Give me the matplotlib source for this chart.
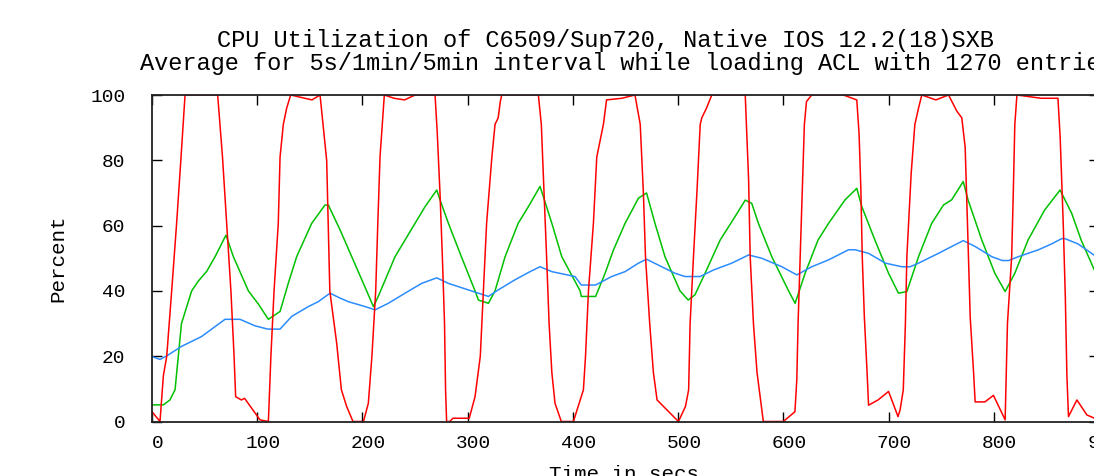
import numpy as np
import matplotlib
matplotlib.use("Agg")
import matplotlib.pyplot as plt
import matplotlib.transforms as mtransforms

# CPU load samples (time in secs, percent)
red_x = [0, 7.6, 10.8, 14, 18.7, 23.4, 27.6, 31.4, 62.4, 67, 71, 75, 78, 79.5, 85, 88,
         102.6, 110.6, 113, 116, 120, 121.7, 124.8, 128, 131.8, 145, 152, 159.7, 166, 169,
         175.5, 178, 180, 185, 191, 201, 205.6, 209, 212.6, 214.6, 216.7, 220.8, 230, 240,
         250, 269, 271, 273.7, 276, 278, 279, 280, 283, 286, 301.5, 307, 312, 315, 318, 323,
         326, 329, 331, 332.4, 367.2, 370, 372, 375, 377.4, 380, 383, 389, 400.5, 405, 410,
         412, 414.8, 419.5, 422.7, 429, 432, 446.5, 459, 464, 467, 469, 473, 476.5, 480,
         500.3, 507, 510, 511.4, 514.6, 518, 521, 522.5, 527, 532, 563.8, 567, 568.5, 571.6,
         575, 581, 600, 611, 612.8, 614, 616, 618, 620, 622, 627, 657, 669.8, 672, 673.7,
         675, 677, 679.6, 681, 690, 700, 709, 711, 714, 716, 717.4, 719, 721.5, 725, 728.5,
         731.6, 745, 757, 765, 769.6, 772.8, 775, 777.6, 780.8, 782.3, 791.6, 799.7, 810.8,
         813, 817, 818.6, 820, 822, 845, 861, 863.1, 866, 868, 869.5, 871, 879, 888.5, 895.6,
         900]
red_y = [3, 0, 14, 20, 40, 60.7, 81, 100, 100, 81, 60.7, 40, 20, 7.6, 6.6, 7.1,
         0.5, 0, 20, 40, 60.7, 81, 91, 96, 100, 99, 98.5, 100, 80, 40,
         24, 16, 9.7, 4.6, 0, 0, 5.6, 20, 40, 60.7, 81, 100, 99, 98.5,
         100, 100, 89, 70, 50, 30, 9.7, 0, 0, 1, 1, 7.6, 20, 40, 60.7, 81,
         91, 93, 98, 100, 100, 91, 75, 50.5, 30, 15, 5.6, 0, 0, 4.6, 9.7,
         20, 40, 60.7, 81, 91, 98.5, 99, 100, 91, 70, 50.5, 30, 15, 6.6,
         0, 4.6, 9.7, 30, 50.5, 71, 91, 93, 96, 100, 100, 74, 50.5, 30,
         15, 0, 0, 3, 12.8, 30, 50.5, 71, 91, 98, 100, 100, 98.5, 88, 71,
         50.5, 32, 15, 5, 6.6, 9.2, 1.5, 3.6, 9.7, 30, 50.5, 60.7, 76, 91, 96,
         100, 98.5, 100, 95, 93, 84, 60.7, 32, 15, 6, 6, 8, 0.5,
         30, 50.5, 71, 91, 100, 99, 99, 87, 60.7, 38, 14, 1.5, 6.6, 2, 1,
         0.5]

green_x = [0, 10.8, 17, 21.9, 25, 28, 37.7, 44, 52, 60, 70.3, 77.3, 91.6, 101, 110.6,
           121.7, 129.6, 137.5, 151.8, 164.4, 167.6, 178.7, 189.8, 204, 210.4, 215, 231,
           250, 259.5, 270.6, 273.7, 281.7, 294, 307, 310.2, 319.7, 326, 335.6, 348, 357.7,
           368.8, 380, 389.4, 406.9, 408, 421.6, 430.6, 438.5, 449.6, 462.3, 470, 478,
           487.5, 501.8, 509.6, 516, 525.6, 540, 554, 563.8, 570, 576.3, 589, 605, 611.2,
           620.7, 633, 643, 658.7, 669.8, 674.6, 687, 700, 709.4, 717.4, 728.5, 741, 752.2,
           760, 771, 775.5, 788.6, 801, 810.8, 820, 832.6, 848.4, 863, 874, 883, 895.6]
green_y = [5.1, 5.1, 6.6, 9.7, 20, 30, 40, 43, 46, 50.5, 57.1, 50.5, 40, 36, 31.3,
           33.7, 42.4, 50.5, 60.7, 66.3, 66.3, 58.7, 50.5, 40, 35.2, 38.3, 50.5,
           60.7, 65.8, 70.9, 67.9, 60.7, 50.5, 40, 37.2, 36.2, 40, 50.5, 60.7, 65.8,
           72, 60.7, 50.5, 40, 38.3, 38.3, 45.4, 52.5, 60.7, 68.4, 70, 60.7,
           50.5, 40, 37.2, 38.8, 45.4, 55.6, 62.7, 67.8, 66.8, 60.7, 50.5, 40, 36.2,
           45.4, 55.6, 60.7, 67.9, 71.4, 65.8, 55.6, 45.4, 39.3, 39.8, 50.5, 60.7, 66.3,
           67.9, 73.5, 67.9, 55.6, 45.4, 39.8, 45.4, 55.6, 64.8, 70.9, 63.8, 55.6, 46.4]

blue_x = [0, 7.6, 15.5, 28, 47, 56.7, 69.4, 83.6, 97.9, 110, 121.7, 132.8, 148.6, 158,
          169.2, 178.7, 186.6, 202.5, 212, 224.6, 240.5, 256.3, 270.6, 281.7, 300.7, 319.7,
          329, 345, 359.3, 368.8, 380, 402, 408, 421.6, 436.8, 449.6, 462.3, 470, 484.4,
          497, 506.6, 521, 533.6, 551, 566.9, 579.5, 598.6, 612.8, 627, 643, 662, 668.3,
          681, 697, 712.6, 720.5, 728.5, 747.4, 760, 771, 782.3, 798, 808, 814, 823.5,
          842.5, 855, 864.5, 867.7, 880, 895.6]
blue_y = [19.9, 19, 20.4, 23, 26, 28.3, 31.3, 31.3, 29.3, 28.3, 28.3, 32.2, 35.2, 36.7,
          39.3, 37.8, 36.7, 35.2, 34.2, 36.2, 39.3, 42.3, 44, 42.3, 40.3, 38.3,
          40.3, 43.4, 45.9, 47.4, 45.9, 44.4, 41.8, 41.8, 44.4, 45.9, 48.5, 49.7, 47.4,
          45.4, 44.4, 44.4, 46.4, 48.5, 51, 50, 47.4, 44.9, 47.4, 49.5, 52.6, 52.6,
          51.5, 48.5, 47.4, 47.4, 48.5, 51.5, 53.6, 55.4, 53.6, 50.5, 49.3, 49.3, 50.5,
          52.6, 54.4, 56, 56, 54.4, 50.9]

xticks = [0, 100, 200, 300, 400, 500, 600, 700, 800, 900]
yticks = [0, 20, 40, 60, 80, 100]

mono = "Liberation Mono"
W, H = 1094, 476

fig = plt.figure(figsize=(W / 100, H / 100), dpi=100)
# plot area: x=0 at px 152, x=900 at px 1099 (cut off by the image edge)
ax = fig.add_axes([152 / W, (H - 421.5) / H, 947 / W, 326.5 / H])

ax.plot(green_x, green_y, color="#00c000", lw=1.1)
ax.plot(blue_x, blue_y, color="#2b8cff", lw=1.1)
ax.plot(red_x, red_y, color="#ff0000", lw=1.1)

ax.set_xlim(0, 900)
ax.set_ylim(0, 100)
ax.set_xticks(xticks)
ax.set_yticks(yticks)
ax.tick_params(direction="in", length=7, width=1, top=True, right=True,
               labelsize=14, pad=10, colors="black")
ax.tick_params(axis="y", pad=19)
for lab in ax.get_xticklabels() + ax.get_yticklabels():
    lab.set_family(mono)
for spine in ax.spines.values():
    spine.set_linewidth(1.3)
    spine.set_color("#222222")

# gnuplot puts its labels a few px right of the tick
shift = mtransforms.ScaledTranslation(6 / 100, 0, fig.dpi_scale_trans)
for lab in ax.get_xticklabels():
    lab.set_transform(lab.get_transform() + shift)

fig.text(217 / W, 1 - 47 / H, "CPU Utilization of C6509/Sup720, Native IOS 12.2(18)SXB",
         ha="left", va="baseline", family=mono, fontsize=17)
fig.text(140 / W, 1 - 70 / H,
         "Average for 5s/1min/5min interval while loading ACL with 1270 entries",
         ha="left", va="baseline", family=mono, fontsize=17)
fig.text(58 / W, 1 - 258 / H, "Percent", rotation=90, ha="center", va="center",
         family=mono, fontsize=15)
fig.text(624 / W, 1 - 480 / H, "Time in secs", ha="center", va="baseline",
         family=mono, fontsize=15)

fig.savefig("out.png", dpi=100)
